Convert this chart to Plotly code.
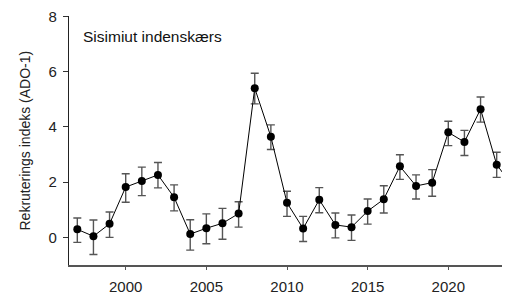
import plotly.graph_objects as go

years = [1997, 1998, 1999, 2000, 2001, 2002, 2003, 2004, 2005, 2006, 2007, 2008, 2009, 2010,
         2011, 2012, 2013, 2014, 2015, 2016, 2017, 2018, 2019, 2020, 2021, 2022, 2023, 2024]
index_values = [0.29, 0.04, 0.49, 1.82, 2.04, 2.26, 1.45, 0.12, 0.33, 0.51, 0.86, 5.40, 3.64, 1.25,
                0.32, 1.36, 0.45, 0.37, 0.95, 1.38, 2.57, 1.86, 1.98, 3.80, 3.45, 4.64, 2.63, 1.85]
upper_bound = [0.70, 0.63, 0.92, 2.30, 2.54, 2.71, 1.90, 0.64, 0.85, 1.05, 1.29, 5.94, 4.07, 1.67,
               0.76, 1.80, 0.88, 0.81, 1.39, 1.87, 2.99, 2.26, 2.45, 4.20, 3.87, 5.08, 3.08, 2.30]
lower_bound = [-0.18, -0.62, 0.00, 1.27, 1.51, 1.79, 0.96, -0.46, -0.23, -0.07, 0.37, 4.83, 3.18, 0.76,
               -0.15, 0.89, -0.02, -0.11, 0.48, 0.88, 2.10, 1.39, 1.49, 3.32, 2.96, 4.17, 2.17, 1.40]
x_tick_vals = [2000, 2005, 2010, 2015, 2020]
y_tick_vals = [0, 2, 4, 6, 8]
area_label = "Sisimiut indenskærs"
y_title = "Rekruterings indeks (ADO-1)"

err_plus = [u - v for u, v in zip(upper_bound, index_values)]
err_minus = [v - l for v, l in zip(index_values, lower_bound)]

fig = go.Figure()
fig.add_trace(go.Scatter(
    x=years, y=index_values, mode="lines+markers",
    line=dict(color="black", width=1),
    marker=dict(color="black", size=8),
    error_y=dict(type="data", symmetric=False, array=err_plus, arrayminus=err_minus,
                 color="#555555", thickness=1.4, width=4),
    showlegend=False,
))

FONT = "Liberation Sans, Arial, sans-serif"
axis_font = dict(family=FONT, size=15, color="#222222")
# page has an 8px body margin: figure is 502x287 so it ends at the window edge
fig.update_layout(
    width=502, height=287,
    margin=dict(l=61, r=0, t=7, b=28),
    paper_bgcolor="white", plot_bgcolor="white",
    font=axis_font,
    xaxis=dict(range=[1996.485, 2023.825], tickvals=x_tick_vals, showgrid=False, zeroline=False,
               showline=True, linecolor="#555555", linewidth=1.5,
               ticks="outside", ticklen=3, tickwidth=1.2, tickcolor="#555555",
               ticklabelstandoff=4, ticklabeloverflow="allow", tickfont=axis_font),
    yaxis=dict(range=[-1, 8.01], tickvals=y_tick_vals, showgrid=False, zeroline=False,
               showline=True, linecolor="#222222", linewidth=1.3,
               ticks="outside", ticklen=5, tickwidth=1.2, tickcolor="#333333",
               ticklabelstandoff=3, ticklabeloverflow="allow", tickfont=axis_font),
    annotations=[
        dict(text=area_label, xref="paper", yref="paper", x=(81 - 69) / 441, y=(267 - 36) / 252,
             xanchor="left", yanchor="middle", showarrow=False,
             font=dict(family=FONT, size=15.5, color="#111111")),
        dict(text=y_title, xref="paper", yref="paper", x=0, y=0.5, xshift=-45, textangle=-90,
             xanchor="center", yanchor="middle", showarrow=False,
             font=dict(family=FONT, size=14, color="#222222")),
    ],
)
fig.write_html("out.html")
